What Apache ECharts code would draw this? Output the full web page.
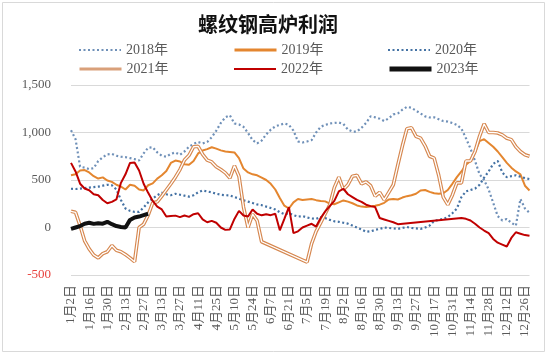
<!DOCTYPE html>
<html><head><meta charset="utf-8">
<script src="https://cdn.jsdelivr.net/npm/echarts@6/dist/echarts.min.js"></script>
<style>html,body{margin:0;padding:0;background:#fff}#c{width:550px;height:357px}</style>
</head><body><div id="c"></div>
<script>
const tickLabels = ['1月2日','1月16日','1月30日','2月13日','2月27日','3月13日','3月27日','4月11日','4月25日','5月10日','5月24日','6月7日','6月21日','7月5日','7月19日','8月2日','8月16日','8月30日','9月13日','9月27日','10月17日','10月31日','11月14日','11月28日','12月12日','12月26日'];
const seriesNames = ['2018年','2019年','2020年','2021年','2022年','2023年'];

const y2018 = [1024,930,640,630,615,625,700,740,770,775,755,745,740,730,720,705,780,840,845,790,755,745,775,790,765,800,850,880,900,885,900,950,1020,1100,1160,1180,1095,1085,1060,995,920,885,915,980,1030,1065,1080,1095,1080,1020,905,895,905,920,1000,1060,1080,1095,1100,1105,1090,1030,1010,1010,1050,1100,1170,1160,1145,1120,1150,1190,1200,1240,1270,1260,1230,1200,1170,1158,1160,1140,1120,1115,1100,1080,1040,940,830,700,560,500,400,260,120,75,90,50,20,300,200,155];
const y2019 = [549,560,600,605,580,540,515,528,495,480,450,430,400,450,440,400,390,445,465,515,550,595,680,705,695,665,660,700,780,810,825,845,830,812,800,795,790,730,620,580,560,549,525,500,460,400,310,230,200,265,300,290,295,300,288,280,275,252,245,265,285,272,255,232,220,215,222,228,240,260,295,300,295,315,330,340,355,390,395,375,360,355,360,395,460,530,590,660,700,790,910,930,890,850,800,740,680,630,590,560,440,390];
const y2020 = [408,405,410,415,420,425,430,440,450,445,400,290,200,175,165,165,210,265,305,340,365,350,340,355,345,335,325,340,370,390,380,370,355,345,340,338,320,305,285,272,258,243,235,220,205,190,160,140,150,130,115,120,105,95,90,110,100,80,65,60,50,40,20,0,-20,-45,-40,-25,-15,0,-5,-10,-15,-5,5,-5,-10,-15,0,20,70,80,90,110,150,200,320,380,395,410,450,525,590,670,700,580,530,540,550,535,520,510];
const y2021 = [170,160,20,-140,-225,-290,-320,-275,-255,-190,-240,-255,-285,-320,-360,0,35,130,260,270,330,395,460,530,610,710,760,850,855,770,710,690,640,610,575,520,650,540,215,0,140,70,-150,null,null,null,null,null,null,null,null,null,-365,-170,-40,50,145,240,420,530,400,450,540,549,460,480,440,330,370,290,370,450,660,860,1040,1050,960,940,860,750,730,550,320,240,340,470,470,700,700,800,960,1090,1000,1000,995,975,940,925,850,800,765,750];
const y2022 = [680,590,461,410,392,350,340,290,255,270,295,470,560,679,685,600,461,365,280,220,190,115,120,125,109,126,112,140,150,85,55,70,50,0,-25,-20,90,175,126,115,190,144,128,140,130,144,-30,90,215,-60,-40,0,20,39,10,100,170,225,280,380,408,350,320,290,270,240,225,215,100,85,70,55,35,null,null,null,null,null,null,null,null,null,null,null,null,null,100,91,74,40,0,-32,-60,-120,-160,-180,-200,-110,-50,-65,-80,-88];
const y2023 = [-15,0,15,40,50,38,45,40,60,35,15,5,0,80,105,115,130,145];

const font = "'Liberation Serif','Noto Sans CJK SC',serif";
const pts = arr => arr.map((v, i) => [i, v]);

const chart = echarts.init(document.getElementById('c'), null, {renderer: 'canvas'});

const legendPos = [[78,43],[233,43],[387,43],[78,62],[233,62],[387,62]];
const legendLine = [
  {color:'#6f90b8', width:2, type:[2,2.5]},
  {color:'#e4862f', width:3},
  {color:'#4472a4', width:2, type:[2,2.5]},
  {color:'#d9a07a', width:3},
  {color:'#c00000', width:2},
  {color:'#111111', width:5}
];

const legends = seriesNames.map((n, i) => ({
  data: [{name: n, lineStyle: legendLine[i], itemStyle: {opacity: 0}}],
  left: legendPos[i][0], top: legendPos[i][1], padding: 0,
  itemWidth: 42, itemHeight: 14, selectedMode: false,
  textStyle: {fontSize: 14, color: '#595959', fontFamily: font}
}));

chart.setOption({
  animation: false,
  backgroundColor: '#fff',
  title: {text: '螺纹钢高炉利润', left: 198, top: 14, padding: 0,
    textStyle: {fontSize: 20, fontWeight: 'bold', color: '#111', fontFamily: "'Noto Sans CJK SC',sans-serif"}},
  legend: legends,
  graphic: [{type:'rect', silent:true, z:-10, shape:{x:2.5,y:2.5,width:542,height:349},
    style:{fill:'none', stroke:'#d9d9d9', lineWidth:1}}],
  grid: {left: 71, top: 85, width: 458.5, height: 190, containLabel: false},
  xAxis: {
    type: 'value', min: 0, max: 101, interval: 4,
    splitLine: {show: false},
    axisLine: {show: false, onZero: false}, axisTick: {show: false},
    axisLabel: {rotate: 90, margin: 10, fontSize: 13, color: '#595959', fontFamily: font,
      formatter: v => (v % 4 === 0 && tickLabels[v / 4]) ? tickLabels[v / 4] : ''}
  },
  yAxis: {
    type: 'value', min: -500, max: 1500, interval: 500,
    splitLine: {lineStyle: {color: '#d9d9d9', width: 1}},
    axisLine: {show: false}, axisTick: {show: false},
    axisLabel: {margin: 20, fontSize: 13, fontFamily: font,
      color: v => Number(v) < 0 ? '#e8413c' : '#595959',
      formatter: v => (v < 0 ? '-' : '') + String(Math.abs(v)).replace(/\B(?=(\d{3})+(?!\d))/g, ',')}
  },
  series: [
    {name: '2018年', type: 'line', symbol: 'none', data: pts(y2018),
      lineStyle: {color: '#6f90b8', width: 2.2, type: [2, 2.5]}, itemStyle: {color: '#6f90b8'}},
    {name: '2019年', type: 'line', symbol: 'none', data: pts(y2019),
      lineStyle: {color: '#e4862f', width: 2}, itemStyle: {color: '#e4862f'}},
    {name: '2020年', type: 'line', symbol: 'none', data: pts(y2020),
      lineStyle: {color: '#4472a4', width: 2.2, type: [2, 2.5]}, itemStyle: {color: '#4472a4'}},
    {name: '2021年', type: 'line', symbol: 'none', data: pts(y2021), connectNulls: true,
      lineStyle: {color: '#d6874f', width: 3.6}, itemStyle: {color: '#d6874f'}},
    {name: '2021年内', type: 'line', symbol: 'none', data: pts(y2021), connectNulls: true,
      lineStyle: {color: '#ffffff', width: 1.3}, itemStyle: {color: '#ffffff'}},
    {name: '2022年', type: 'line', symbol: 'none', data: pts(y2022), connectNulls: true,
      lineStyle: {color: '#c00000', width: 2}, itemStyle: {color: '#c00000'}},
    {name: '2023年', type: 'line', symbol: 'none', data: pts(y2023),
      lineStyle: {color: '#111111', width: 4}, itemStyle: {color: '#111111'}}
  ]
});
</script>
</body></html>
